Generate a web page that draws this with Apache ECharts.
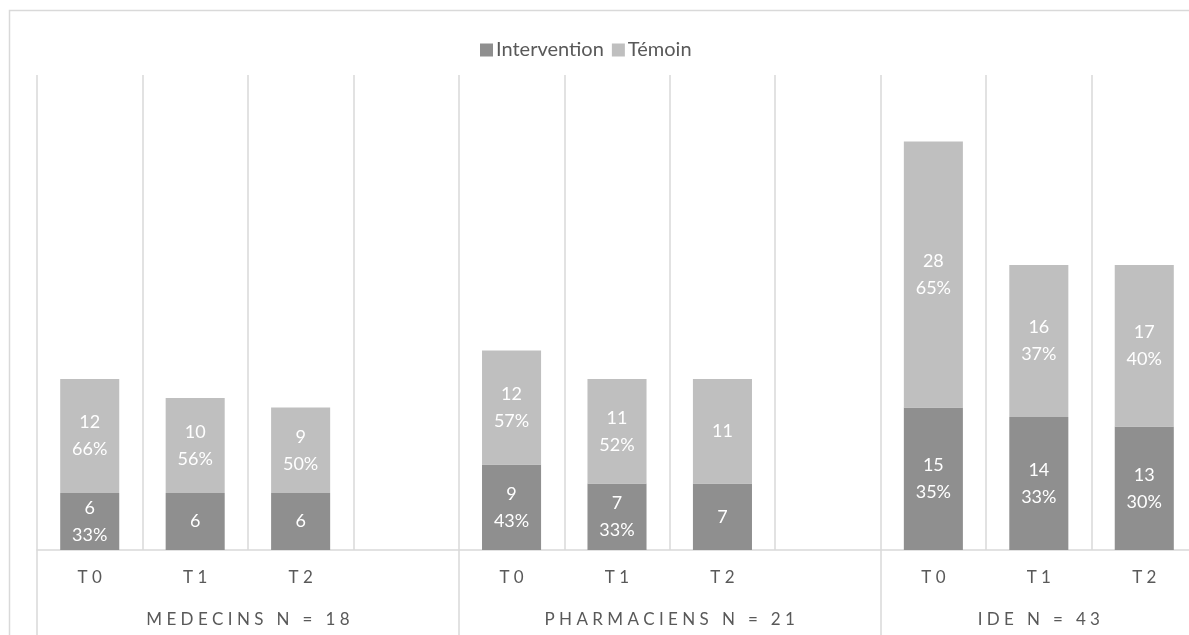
<!DOCTYPE html>
<html>
<head>
<meta charset="utf-8">
<script src="https://cdn.jsdelivr.net/npm/echarts@6/dist/echarts.min.js"></script>
<style>
html,body{margin:0;padding:0;background:#fff;}
#chart{width:1189px;height:635px;}
</style>
</head>
<body>
<div id="chart"></div>
<script>
// ---- data ----
const categories = ['T0','T1','T2','','T0','T1','T2','','T0','T1','T2'];
const interventionValues = [6,6,6,null,9,7,7,null,15,14,13];
const temoinValues = [12,10,9,null,12,11,11,null,28,16,17];
const interventionPct = ['33%','','','','43%','33%','','','35%','33%','30%'];
const temoinPct = ['66%','56%','50%','','57%','52%','','','65%','37%','40%'];
const groupLabels = ['MEDECINS N = 18','PHARMACIENS N = 21','IDE N = 43'];
const seriesNames = ['Intervention','Témoin'];

// ---- group spans derived from the category list (empty category = separator) ----
const groupStarts = [];
const groupCenters = [];
(function(){
  let start = 0;
  for (let i = 0; i <= categories.length; i++) {
    if (i === categories.length || categories[i] === '') {
      const end = (i === categories.length) ? i : i + 1; // separator slot belongs to the group
      groupStarts.push(start);
      groupCenters.push((start + end) / 2);
      start = i + 1;
    }
  }
})();

function spaced(s){ return s.split('').join(' '); }

const chart = echarts.init(document.getElementById('chart'), null, {renderer:'canvas'});
const FONT = 'Lato, "Open Sans", sans-serif';
const GRID = '#d9d9d9';
const TEXT = '#595959';

function barLabel(pcts){
  return {
    show: true,
    position: 'inside',
    color: '#ffffff',
    fontFamily: FONT,
    fontSize: 18,
    lineHeight: 27,
    formatter: function(p){
      const pct = pcts[p.dataIndex];
      return p.value + (pct ? '\n' + pct : '');
    }
  };
}

chart.setOption({
  animation: false,
  backgroundColor: '#ffffff',
  graphic: [{
    type: 'rect',
    shape: {x: 9.5, y: 10.5, width: 1400, height: 800},
    style: {fill: 'none', stroke: GRID, lineWidth: 1.5},
    silent: true, z: -10
  }],
  legend: {
    data: seriesNames,
    left: 475,
    top: 35,
    itemWidth: 13,
    itemHeight: 13,
    itemGap: 8,
    icon: 'rect',
    textStyle: {color: TEXT, fontFamily: FONT, fontSize: 20, padding: [0,0,0,-2]}
  },
  grid: {left: 37, width: 1160, top: 75, bottom: 85, containLabel: false, outerBoundsMode: 'none'},
  xAxis: [{
    type: 'category',
    data: categories,
    boundaryGap: true,
    axisLine: {show: true, lineStyle: {color: GRID, width: 1.5}},
    axisTick: {show: false},
    splitLine: {show: true, interval: 0, lineStyle: {color: GRID, width: 1.5}},
    axisLabel: {
      interval: 0, margin: 19, color: TEXT, fontFamily: FONT, fontSize: 17,
      formatter: function(v){ return spaced(v); }
    }
  }, {
    type: 'value',
    position: 'bottom',
    min: 0,
    max: categories.length,
    axisLine: {show: false},
    splitLine: {show: false},
    axisTick: {show: true, customValues: groupStarts, length: 85, lineStyle: {color: GRID, width: 1.5}},
    axisLabel: {
      customValues: groupCenters,
      margin: 61, color: TEXT, fontFamily: FONT, fontSize: 17,
      formatter: function(v){
        const idx = groupCenters.indexOf(v);
        return idx >= 0 ? spaced(groupLabels[idx]) : '';
      }
    }
  }],
  yAxis: {
    type: 'value', min: 0, max: 50, show: false,
    splitLine: {show: false}
  },
  series: [{
    name: seriesNames[0],
    type: 'bar',
    stack: 'total',
    xAxisIndex: 0,
    data: interventionValues,
    barCategoryGap: '44%',
    itemStyle: {color: '#8f8f8f'},
    label: barLabel(interventionPct)
  }, {
    name: seriesNames[1],
    type: 'bar',
    stack: 'total',
    xAxisIndex: 0,
    data: temoinValues,
    barCategoryGap: '44%',
    itemStyle: {color: '#bfbfbf'},
    label: barLabel(temoinPct)
  }]
});
</script>
</body>
</html>
